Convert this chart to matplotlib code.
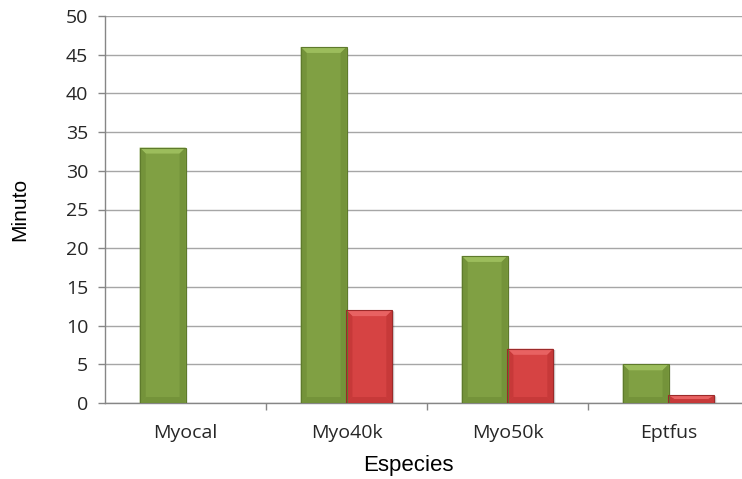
import numpy as np
import matplotlib.pyplot as plt
from matplotlib.patches import Polygon, Rectangle

# Especies y tiempos (minutos)
especies = ["Myocal", "Myo40k", "Myo50k", "Eptfus"]
serie_verde = [33, 46, 19, 5]
serie_roja = [0, 12, 7, 1]
yticks = [0, 5, 10, 15, 20, 25, 30, 35, 40, 45, 50]

# colores: cuerpo, bisel claro, bisel oscuro, borde
verde = ("#80A043", "#9CBD5C", "#74933A", "#5E7A2C")
rojo = ("#D64343", "#E86262", "#C73939", "#9C2A2A")

W, H = 742, 479
fig = plt.figure(figsize=(W / 100, H / 100), dpi=100)
ax = fig.add_axes([105 / W, 76 / H, 644 / W, 387 / H])

x = np.arange(len(especies))
ancho = 0.285
off = 0.142

ax.set_xlim(-0.5, len(especies) - 0.5)
ax.set_ylim(0, 50)

# tamaño del bisel en unidades de datos (px -> datos)
px_x = (len(especies)) / 644.0
px_y = 50 / 387.0


def bisel(ax, rect, col):
    x0, w, h = rect.get_x(), rect.get_width(), rect.get_height()
    if h <= 0:
        rect.set_visible(False)
        return
    bx = min(6 * px_x, w / 2)
    by = min(6 * px_y, h / 2)
    # sombra suave
    for k, a in zip([4, 3, 2], [0.05, 0.07, 0.09]):
        ax.add_patch(Rectangle((x0 + k * px_x * 0.6, -k * px_y * 0.4), w, h,
                               facecolor="black", alpha=a, edgecolor="none", zorder=2))
    caras = [
        ([(x0, h), (x0 + w, h), (x0 + w - bx, h - by), (x0 + bx, h - by)], col[1]),
        ([(x0, 0), (x0 + w, 0), (x0 + w - bx, by), (x0 + bx, by)], col[2]),
        ([(x0, 0), (x0, h), (x0 + bx, h - by), (x0 + bx, by)], col[2]),
        ([(x0 + w, 0), (x0 + w, h), (x0 + w - bx, h - by), (x0 + w - bx, by)], col[2]),
    ]
    for pts, c in caras:
        ax.add_patch(Polygon(pts, closed=True, facecolor=c, edgecolor="none",
                             zorder=4))
    ax.add_patch(Rectangle((x0, 0), w, h, facecolor="none", edgecolor=col[3],
                           linewidth=0.8, zorder=5))


barras_v = ax.bar(x - off, serie_verde, ancho, color=verde[0], linewidth=0, zorder=3)
barras_r = ax.bar(x + off, serie_roja, ancho, color=rojo[0], linewidth=0, zorder=3)
for r in barras_v:
    bisel(ax, r, verde)
for r in barras_r:
    bisel(ax, r, rojo)

# ejes estilo hoja de cálculo
ax.set_yticks(yticks)
ax.yaxis.grid(True, color="#A6A6A6", linewidth=1.0)
ax.set_axisbelow(True)
ax.set_xticks(x)
ax.set_xticklabels(especies)
ax.set_xticks(np.arange(0.5, len(especies) - 0.5, 1), minor=True)
ax.tick_params(axis="x", which="major", length=0, pad=15)
ax.tick_params(axis="x", which="minor", length=5, color="#868686", width=1)
ax.tick_params(axis="y", length=5, color="#868686", width=1, pad=7)
for lab in ax.get_xticklabels() + ax.get_yticklabels():
    lab.set_fontfamily("Open Sans")
    lab.set_fontsize(14)
    lab.set_color("#262626")

for s in ["top", "right"]:
    ax.spines[s].set_visible(False)
for s in ["left", "bottom"]:
    ax.spines[s].set_color("#868686")
    ax.spines[s].set_linewidth(1)

ax.set_ylabel("Minuto", fontfamily="Liberation Sans", fontsize=15, va="center")
ax.set_xlabel("Especies", fontfamily="Liberation Sans", fontsize=16, va="center")
ax.yaxis.set_label_coords(-85 / 644, 0.5)
ax.xaxis.set_label_coords((408 - 105) / 644, -62 / 387)

fig.savefig("out.png", dpi=100)
